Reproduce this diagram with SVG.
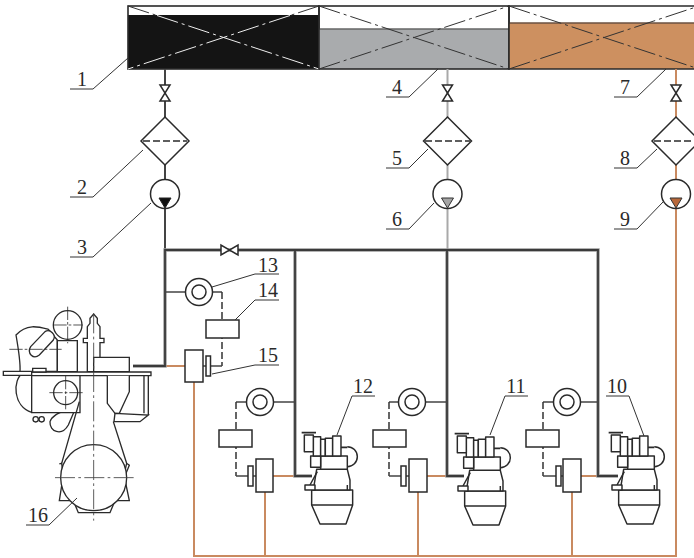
<svg xmlns="http://www.w3.org/2000/svg" xmlns:xlink="http://www.w3.org/1999/xlink" width="694" height="558" viewBox="0 0 694 558">
<style>
.ln{fill:none;stroke:#2a2a2a;stroke-width:1.3}
.nd{fill:#fff;stroke:#2a2a2a;stroke-width:1.500}
.thin{fill:none;stroke:#333;stroke-width:1}
.halo{fill:none;stroke:#9a9a9a;stroke-width:3.4}
.core{fill:none;stroke:#3a3a3a;stroke-width:1.8}
.blk{fill:none;stroke:#444;stroke-width:2}
.gry{fill:none;stroke:#a9a9a9;stroke-width:2}
.org{fill:none;stroke:#c98a60;stroke-width:2}
.dash{fill:none;stroke:#333;stroke-width:1.5;stroke-dasharray:7 3}
.cd{fill:none;stroke:#333;stroke-width:1;stroke-dasharray:22 4 3 4}
.cw{fill:none;stroke:#eee;stroke-width:1;stroke-dasharray:22 4 3 4}
.e{fill:#fff;stroke:#2a2a2a;stroke-width:4.400;stroke-linejoin:round}
.en{fill:none;stroke:#2a2a2a;stroke-width:4.400;stroke-linejoin:round}
.g{fill:#fff;stroke:#2a2a2a;stroke-width:4}
.gn{fill:none;stroke:#2a2a2a;stroke-width:4}
.c3{fill:none;stroke:#444;stroke-width:2.6;stroke-dasharray:60 10 8 10}
text{font-family:"Liberation Serif","Times New Roman",serif;font-size:20px;fill:#2a2a2a;text-anchor:middle}
</style>
<defs>
<g id="engine">
<path class="e" d="M305 360H428V405L408 462H330L305 405Z"/>
<path class="en" d="M305 405H428"/>
<path class="e" d="M320 298H412L420 330V360H310Z"/>
<path class="en" d="M300 345L322 305M412 345V360"/>
<path class="e" d="M285 345H315V360H285Z"/>
<path class="en" d="M412 230A30 30 0 0 1 412 290"/>
<path class="e" d="M332 258H412V298H332Z"/>
<path class="e" d="M302 258H332V292H302Z"/>
<path class="e" d="M310 200H332V258H310Z"/>
<path class="e" d="M332 208H346V258H332Z"/>
<path class="e" d="M346 205H368V258H346Z"/>
<path class="e" d="M368 198H393V258H368Z"/>
<path class="e" d="M283 195H310V245H283Z"/>
<path class="en" d="M275 188H318M393 232H412" style="stroke-width:5"/>
</g>
<g id="valveV"><path class="nd" d="M-5 -8H5L-5 8H5Z"/></g>
<path id="filter" class="nd" d="M0 -24L24 0L0 24L-24 0Z"/>
</defs>

<g id="tanks">
<g id="tank-1"><rect x="128" y="15" width="191" height="54" fill="#141414"/><rect class="ln" x="128" y="6" width="191" height="63" style="stroke-width:1.6"/>
<path class="cd" d="M128 6L157 15.500M319 6L290 15.500"/><path class="cw" d="M157 15.500L319 69M290 15.500L128 69"/></g>
<g id="tank-4"><rect x="319" y="29" width="190" height="40" fill="#a9abad"/><path class="ln" d="M319 29H509" style="stroke:#666"/><rect class="ln" x="319" y="6" width="190" height="63" style="stroke-width:1.6"/>
<path class="cd" d="M319 6L509 69M319 69L509 6"/></g>
<g id="tank-7"><rect x="509" y="23" width="190" height="46" fill="#cd9060"/><path class="ln" d="M509 23H699" style="stroke:#6a5040"/><path class="ln" d="M694 6H509V69H694" style="stroke-width:1.600"/>
<path class="cd" d="M509 6L699 69M509 69L699 6"/></g>
</g>

<g id="connectors">
<path class="blk" d="M165 69V118M165 165V250"/>
<path class="gry" d="M447.500 69V118M447.500 165V250"/>
<path class="org" d="M676 69V556H194V382M133 366H185M265 492V556M418 492V556M572 492V556M273 476H295M427 476H447M581 476H598"/>
<path class="halo" d="M133 366H165V250H598V476H618M295 250V476H312M447 250V476H464"/>
<path class="core" d="M133 366H165V250H598V476H618M295 250V476H312M447 250V476H464"/>
<path class="blk" style="stroke-width:1.5" d="M165 292H186M273 402H295M425 402H447M580 402H598M212 292H222M249 402H236M399 402H389M554 402H543"/>
<path class="dash" d="M222 292V366M236 402V476M389 402V476M543 402V476"/>
<path class="blk" style="stroke-width:1.500" d="M222 366H210M236 476H248M389 476H401M543 476H556M203 366H206M253 476H256M406 476H409M561 476H563"/>
</g>

<g id="valve-1"><use xlink:href="#valveV" href="#valveV" x="165" y="93"/></g>
<g id="valve-4"><use xlink:href="#valveV" href="#valveV" x="447.500" y="93"/></g>
<g id="valve-7"><use xlink:href="#valveV" href="#valveV" x="676" y="93"/></g>
<g id="valve-main"><path class="nd" d="M221 245V255L238 245V255Z"/></g>

<g id="filter-2"><use xlink:href="#filter" href="#filter" x="165" y="141"/><path class="ln" d="M143 141H187" stroke-dasharray="7 3"/></g>
<g id="filter-5"><use xlink:href="#filter" href="#filter" x="447.500" y="141"/><path class="ln" d="M425 141H470" stroke-dasharray="7 3"/></g>
<g id="filter-8"><use xlink:href="#filter" href="#filter" x="676" y="141"/><path class="ln" d="M654 141H698" stroke-dasharray="7 3"/></g>

<g id="pump-3"><circle class="nd" cx="165" cy="194" r="14.500"/><path d="M159 198H171L165 208Z" fill="#111" stroke="#222"/></g>
<g id="pump-6"><circle class="nd" cx="447.500" cy="194" r="14.500"/><path d="M441.500 198H453.500L447.500 208Z" fill="#a5a5a5" stroke="#333"/></g>
<g id="pump-9"><circle class="nd" cx="676" cy="194" r="14.500"/><path d="M670 198H682L676 208Z" fill="#b8683a" stroke="#333"/></g>

<g id="unit-13-15">
<circle class="nd" cx="199" cy="292" r="13.500"/><circle class="nd" cx="199" cy="292" r="7"/>
<rect class="nd" x="206" y="320" width="33" height="18"/>
<rect class="nd" x="206" y="356" width="4.500" height="20"/>
<rect class="nd" x="185" y="350" width="18" height="32"/>
</g>
<g id="unit-a">
<circle class="nd" cx="260" cy="402" r="13.500"/><circle class="nd" cx="260" cy="402" r="7"/>
<rect class="nd" x="219" y="430" width="33" height="17"/>
<rect class="nd" x="248" y="466" width="5" height="20"/>
<rect class="nd" x="256" y="459" width="17" height="33"/>
</g>
<g id="unit-b">
<circle class="nd" cx="412" cy="402" r="13.500"/><circle class="nd" cx="412" cy="402" r="7"/>
<rect class="nd" x="373" y="430" width="33" height="17"/>
<rect class="nd" x="401" y="466" width="5" height="20"/>
<rect class="nd" x="409" y="459" width="18" height="33"/>
</g>
<g id="unit-c">
<circle class="nd" cx="567" cy="402" r="13.500"/><circle class="nd" cx="567" cy="402" r="7"/>
<rect class="nd" x="526" y="430" width="33" height="17"/>
<rect class="nd" x="556" y="466" width="5" height="20"/>
<rect class="nd" x="563" y="459" width="18" height="33"/>
</g>

<g id="engine-12"><use xlink:href="#engine" href="#engine" transform="translate(210,370) scale(.3333)"/></g>
<g id="engine-11"><use xlink:href="#engine" href="#engine" transform="translate(363,371) scale(.3333)"/></g>
<g id="engine-10"><use xlink:href="#engine" href="#engine" transform="translate(517,370) scale(.3333)"/></g>

<g id="engine-16" transform="translate(0,290) scale(.3333)">
<path class="gn" d="M70 248C35 270 40 350 95 367"/>
<path class="g" d="M10 244H95V256H10Z"/>
<path class="g" d="M60 244C62 215 55 175 48 135C80 100 115 110 145 118L172 150V244Z"/>
<path class="g" d="M92 170L135 125C150 115 170 135 160 150L118 195C100 210 80 190 92 170Z"/>
<path class="g" d="M172 152H232V245H172Z"/>
<circle class="g" cx="203" cy="105" r="43"/>
<path class="gn" d="M28 178H185M203 50V160M160 105H248" stroke-dasharray="40 6 8 6" style="stroke-width:2.400"/>
<path class="g" d="M262 245V158H250V145H262V110L270 100V85L281 72L292 85V100L300 110V145H312V158H300V245Z"/>
<path class="g" d="M281 202H388V245H281Z"/>
<path class="g" d="M95 246H453V257H95Z"/>
<path class="g" d="M98 235H138V246H98Z"/>
<path class="g" d="M235 335C215 360 160 365 150 395C148 425 185 440 205 405Z"/>
<path class="g" d="M95 257H240V368H95Z"/>
<circle class="g" cx="197" cy="308" r="36"/>
<path class="gn" d="M197 258V360M148 308H248" stroke-dasharray="40 6 8 6" style="stroke-width:2.400"/>
<circle class="g" cx="107" cy="388" r="8"/><circle class="g" cx="125" cy="388" r="8"/>
<path class="g" d="M322 257V340L345 370H358L388 305V257"/>
<path class="gn" d="M432 257V370M445 257V375"/>
<path class="g" d="M345 370L445 375L420 395H342Z"/>
<path class="gn" d="M238 335L185 520M340 395L380 520"/>
<path class="g" d="M178 522L185 520L190 555L178 632H220L235 668H330L345 632H388L372 555L380 520L388 526L376 555"/>
<circle class="g" cx="281" cy="563" r="99"/>
<path class="c3" d="M165 563H403"/>
<path class="c3" d="M281 70V692"/>
</g>

<g id="leaders">
<path class="thin" d="M128 58L93 89H70M143 150L93 197H70M151 203L93 257H70M438 69L409 97H386M428 149L409 168H386M434 203L409 229H386M666 69L637 97H614M657 149L637 168H614M663 202L637 229H614M212 287L255 274H279M235 320L255 300H279M212 374L255 365H279M337 435L352 396H375M490 435L505 396H528M644 436L629 396H606M77 498L49 525H26"/>
</g>
<g id="labels">
<text x="82" y="86">1</text><text x="82" y="194">2</text><text x="82" y="254">3</text>
<text x="397" y="94">4</text><text x="397" y="165">5</text><text x="397" y="226">6</text>
<text x="625" y="94">7</text><text x="625" y="165">8</text><text x="625" y="226">9</text>
<text x="268" y="272">13</text><text x="268" y="297">14</text><text x="268" y="362">15</text>
<text x="363" y="393">12</text><text x="516" y="393">11</text><text x="617" y="393">10</text><text x="38" y="522">16</text>
</g>
</svg>
